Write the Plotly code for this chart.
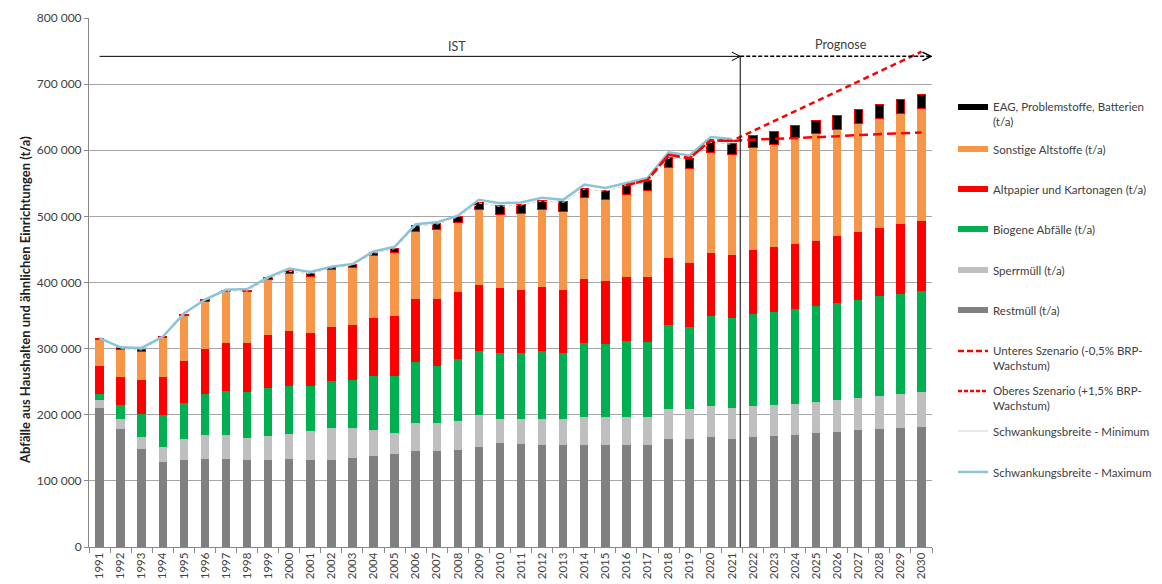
import plotly.graph_objects as go

years = [str(y) for y in range(1991, 2031)]

restmuell = [210000, 178000, 148000, 129000, 131000, 133000, 133000, 131000, 132000, 133000,
             131000, 132000, 134000, 138000, 140000, 145000, 145000, 147000, 151000, 157000,
             156000, 155000, 154000, 155000, 155000, 155000, 155000, 163000, 163000, 167000,
             163000, 166000, 168000, 170000, 172000, 174000, 177000, 178000, 180000, 182000]
sperrmuell = [13000, 16000, 19000, 22000, 32000, 36000, 36000, 34000, 36000, 38000,
              45000, 48000, 46000, 39000, 33000, 42000, 42000, 43000, 48000, 36000,
              38000, 38000, 39000, 42000, 42000, 42000, 42000, 46000, 45000, 46000,
              47000, 47000, 47000, 47000, 48000, 49000, 49000, 51000, 52000, 53000]
biogen = [9000, 20000, 34000, 48000, 55000, 62000, 67000, 69000, 72000, 72000,
          67000, 71000, 73000, 82000, 85000, 93000, 87000, 94000, 98000, 101000,
          99000, 104000, 100000, 112000, 110000, 114000, 113000, 127000, 124000, 136000,
          136000, 139000, 141000, 143000, 145000, 146000, 147000, 150000, 151000, 152000]
altpapier = [41000, 43000, 51000, 58000, 63000, 68000, 72000, 74000, 80000, 84000,
             81000, 82000, 82000, 87000, 91000, 95000, 101000, 102000, 99000, 97000,
             96000, 96000, 96000, 96000, 95000, 97000, 99000, 101000, 98000, 95000,
             95000, 97000, 97000, 98000, 98000, 101000, 103000, 103000, 105000, 106000]
sonstige = [41000, 42000, 44000, 60000, 69000, 73000, 78000, 78000, 84000, 87000,
            85000, 86000, 88000, 95000, 97000, 102000, 105000, 105000, 114000, 112000,
            116000, 117000, 118000, 124000, 123000, 125000, 130000, 137000, 143000, 153000,
            152000, 155000, 155000, 161000, 162000, 162000, 164000, 166000, 167000, 170000]
eag = [2000, 2000, 2000, 2000, 2000, 2000, 2000, 2000, 3000, 4000,
       5000, 4000, 4000, 4000, 6000, 9000, 9000, 9000, 11000, 13000,
       13000, 14000, 15000, 13000, 14000, 15000, 15000, 15000, 15000, 16000,
       17000, 18000, 21000, 18000, 20000, 21000, 22000, 21000, 22000, 22000]

ist_years = [str(y) for y in range(1991, 2022)]
schwankung_max = [316000, 302000, 301000, 318000, 353000, 374000, 389000, 390000, 408000, 421000,
                  416000, 424000, 428000, 447000, 454000, 488000, 491000, 501000, 525000, 520000,
                  521000, 528000, 525000, 548000, 543000, 550000, 558000, 597000, 592000, 620000,
                  617000]
schwankung_min = [315000, 300000, 298000, 318000, 351000, 373000, 387000, 387000, 406000, 417000,
                  413000, 422000, 426000, 444000, 451000, 485000, 488000, 499000, 520000, 515000,
                  517000, 523000, 521000, 541000, 538000, 547000, 553000, 588000, 587000, 612000,
                  609000]

szen_years = [str(y) for y in range(2016, 2031)]
szen_unten = [547000, 555000, 593000, 588000, 615000, 614000, 616000, 617000, 619000, 620000,
              621000, 623000, 624000, 625000, 627000]
szen_oben = [547000, 555000, 593000, 588000, 615000, 614000, 629000, 644000, 659000, 674000,
             689000, 704000, 719000, 734000, 749000]

y_ticks = [0, 100000, 200000, 300000, 400000, 500000, 600000, 700000, 800000]

C_REST = "#808080"
C_SPERR = "#BFBFBF"
C_BIO = "#00B050"
C_PAP = "#FF0000"
C_SON = "#F79646"
C_EAG = "#000000"
C_MAX = "#8DC3D6"
C_MIN = "#D0D0D0"
TXT = "#404040"
FONT = "Lato"

fig = go.Figure()

bars = [
    ("Restmüll (t/a)", restmuell, C_REST, None),
    ("Sperrmüll (t/a)", sperrmuell, C_SPERR, None),
    ("Biogene Abfälle (t/a)", biogen, C_BIO, None),
    ("Altpapier und Kartonagen (t/a)", altpapier, C_PAP, None),
    ("Sonstige Altstoffe (t/a)", sonstige, C_SON, None),
    ("EAG, Problemstoffe, Batterien (t/a)", eag, C_EAG, C_PAP),
]
for name, vals, col, lcol in bars:
    fig.add_trace(go.Bar(
        x=years, y=vals, name=name, marker_color=col,
        marker_line_color=lcol if lcol else col,
        marker_line_width=1 if lcol else 0,
        showlegend=False, hovertemplate="%{x}: %{y:,}<extra>" + name + "</extra>"))

fig.add_trace(go.Scatter(x=ist_years, y=schwankung_min, mode="lines",
                         line=dict(color=C_MIN, width=1, dash="dot"), showlegend=False,
                         name="Schwankungsbreite - Minimum"))
fig.add_trace(go.Scatter(x=ist_years, y=schwankung_max, mode="lines",
                         line=dict(color=C_MAX, width=2.5), showlegend=False,
                         name="Schwankungsbreite - Maximum"))
fig.add_trace(go.Scatter(x=szen_years, y=szen_unten, mode="lines",
                         line=dict(color=C_PAP, width=2.5, dash="9px,5px"), showlegend=False,
                         name="Unteres Szenario"))
fig.add_trace(go.Scatter(x=szen_years, y=szen_oben, mode="lines",
                         line=dict(color=C_PAP, width=2.5, dash="6px,4px"), showlegend=False,
                         name="Oberes Szenario"))

legend_items = [
    ("EAG, Problemstoffe, Batterien<br>(t/a)", dict(color=C_EAG, width=6), 107),
    ("Sonstige Altstoffe (t/a)", dict(color=C_SON, width=6), 149),
    ("Altpapier und Kartonagen (t/a)", dict(color=C_PAP, width=6), 189),
    ("Biogene Abfälle (t/a)", dict(color=C_BIO, width=6), 229),
    ("Sperrmüll (t/a)", dict(color=C_SPERR, width=6), 270),
    ("Restmüll (t/a)", dict(color=C_REST, width=6), 310),
    ("Unteres Szenario (-0,5% BRP-<br>Wachstum)", dict(color=C_PAP, width=2.5, dash="6px,3px"), 351),
    ("Oberes Szenario (+1,5% BRP-<br>Wachstum)", dict(color=C_PAP, width=2.5, dash="4px,2px"), 391),
    ("Schwankungsbreite - Minimum", dict(color=C_MIN, width=1), 431),
    ("Schwankungsbreite - Maximum", dict(color=C_MAX, width=2.5), 472),
]

# page has an 8px body margin; work in page pixels and convert
OFF = 8
W, H = 1162 - OFF, 584 - OFF
L = 89 - OFF
T = 18 - OFF
B = H - (547 - OFF)
R = W - (932 - OFF)
pw = W - L - R
ph = H - T - B


def px_x(xp):
    return (xp - OFF - L) / pw


def px_y(yp):
    return (H - B - (yp - OFF)) / ph


layout_legends = {}
for i, (name, line, ypx) in enumerate(legend_items):
    key = "legend" if i == 0 else f"legend{i+1}"
    fig.add_trace(go.Scatter(x=[None], y=[None], mode="lines", name=name, line=line,
                             legend=key, showlegend=True))
    layout_legends[key] = dict(
        x=px_x(953), y=px_y(ypx - 14), xanchor="left", yanchor="top",
        bgcolor="rgba(0,0,0,0)", borderwidth=0, valign="top",
        font=dict(family=FONT, size=11.5, color=TXT), itemwidth=30)

shapes = []
yarr = 742000
xdiv = 30.4
shapes.append(dict(type="line", xref="x", yref="y", x0=0, x1=xdiv, y0=yarr, y1=yarr,
                   line=dict(color="#000000", width=1)))
shapes.append(dict(type="path", xref="x", yref="y",
                   path=f"M {xdiv-0.4} {yarr+6500} L {xdiv} {yarr} L {xdiv-0.4} {yarr-6500}",
                   line=dict(color="#000000", width=1)))
shapes.append(dict(type="line", xref="x", yref="y", x0=xdiv, x1=xdiv, y0=0, y1=yarr,
                   line=dict(color="#000000", width=1)))
xend = 39.45
shapes.append(dict(type="line", xref="x", yref="y", x0=xdiv, x1=xend, y0=yarr, y1=yarr,
                   line=dict(color="#000000", width=1.5, dash="4px,2px")))
shapes.append(dict(type="path", xref="x", yref="y",
                   path=f"M {xend-0.4} {yarr+6500} L {xend} {yarr} L {xend-0.4} {yarr-6500}",
                   line=dict(color="#000000", width=1.5)))

annotations = [
    dict(text="IST", x=16.95, y=757000, xref="x", yref="y", showarrow=False,
         font=dict(family=FONT, size=12.5, color=TXT)),
    dict(text="Prognose", x=35.2, y=760000, xref="x", yref="y", showarrow=False,
         font=dict(family=FONT, size=12.5, color=TXT)),
    dict(text="<b>Abfälle aus Haushalten und ähnlichen Einrichtungen (t/a)</b>",
         x=px_x(25), y=px_y(300), xref="paper", yref="paper", xanchor="center", yanchor="middle",
         textangle=-90, showarrow=False, font=dict(family=FONT, size=13, color="#202020")),
]

fig.update_layout(
    width=W, height=H,
    margin=dict(l=L, r=R, t=T, b=B, autoexpand=False),
    barmode="stack", bargap=0.6,
    paper_bgcolor="white", plot_bgcolor="white",
    separators=", ",
    font=dict(family=FONT, color=TXT),
    shapes=shapes, annotations=annotations,
    xaxis=dict(type="category", range=[-0.5, 39.5], tickson="boundaries",
               ticks="outside", ticklen=5, tickcolor="#888888",
               showline=True, linecolor="#888888", linewidth=1,
               tickangle=-90, tickfont=dict(family=FONT, size=11.5, color=TXT),
               showgrid=False, automargin=False),
    yaxis=dict(range=[0, 800000], tickvals=y_ticks, tickformat=",d",
               ticks="outside", ticklen=4, tickcolor="#888888",
               showline=True, linecolor="#888888", linewidth=1,
               gridcolor="#A6A6A6", gridwidth=1, zeroline=False,
               tickfont=dict(family=FONT, size=12, color=TXT), automargin=False),
    **layout_legends,
)

fig.write_html("out.html")
